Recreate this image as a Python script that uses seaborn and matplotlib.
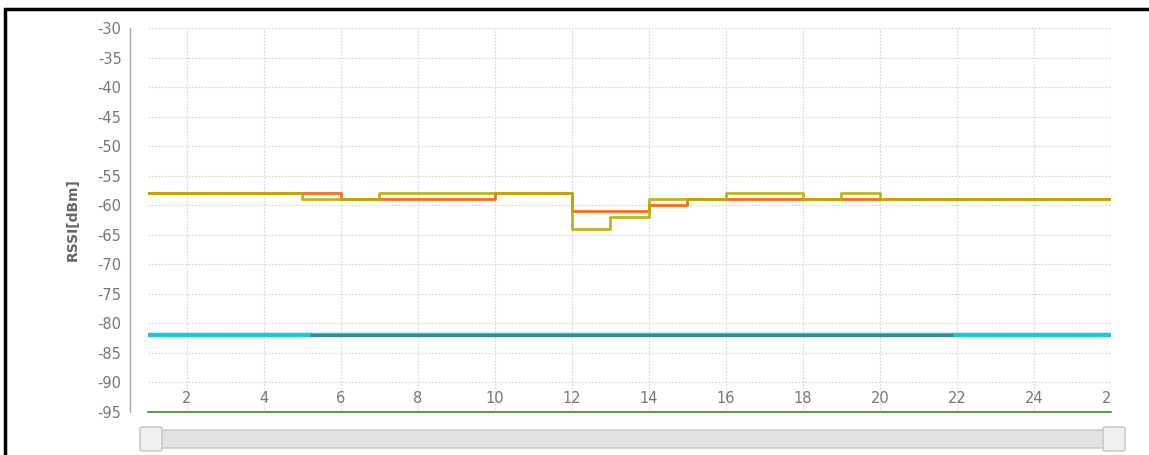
import numpy as np
import pandas as pd
import matplotlib
matplotlib.use("Agg")
import matplotlib.pyplot as plt
from matplotlib.patches import Rectangle, FancyBboxPatch
import seaborn as sns

# sample index
x_idx = list(range(1, 27))
# two RSSI traces (step lines)
rssi_orange = [-58, -58, -58, -58, -58, -59, -59, -59, -59, -58, -58, -61, -61,
               -60, -59, -59, -59, -59, -59, -59, -59, -59, -59, -59, -59, -59]
rssi_olive = [-58, -58, -58, -58, -59, -59, -58, -58, -58, -58, -58, -64, -62,
              -59, -59, -58, -58, -59, -58, -59, -59, -59, -59, -59, -59, -59]
# flat lines
cyan_x = [1, 26]
cyan_y = [-82, -82]
teal_x = [5.2, 21.9]
teal_y = [-82, -82]
floor_x = [1, 26]
floor_y = [-95, -95]

x_ticks = list(range(2, 27, 2))
x_ticklabels = [str(v) for v in x_ticks]
y_ticks = list(range(-95, -29, 5))

df = pd.DataFrame({
    "x": x_idx * 2,
    "rssi": rssi_orange + rssi_olive,
    "series": ["a"] * len(x_idx) + ["b"] * len(x_idx),
})

sns.set_style("white")
plt.rcParams['font.family'] = ['DejaVu Sans']
plt.rcParams['axes.unicode_minus'] = False

fig = plt.figure(figsize=(11.49, 4.55), dpi=100)
ax = fig.add_axes([148 / 1149, 1 - 412 / 455, (1111 - 148) / 1149, (412 - 28) / 455])

ax.plot(cyan_x, cyan_y, color="#1ec8cf", lw=3.2, solid_capstyle="butt")
ax.plot(teal_x, teal_y, color="#2e8f92", lw=2.2, solid_capstyle="butt")
ax.plot(floor_x, floor_y, color="#5a9e4a", lw=1.5, clip_on=False)

sns.lineplot(data=df, x="x", y="rssi", hue="series",
             palette={"a": "#ff6a1a", "b": "#b8ad00"},
             drawstyle="steps-post", lw=2, legend=False, ax=ax)
ax.lines[-1].set_alpha(0.9)

ax.set_xlim(1, 26)
ax.set_ylim(-95, -30)
ax.set_xticks(x_ticks)
ax.set_xticklabels(x_ticklabels)
ax.set_yticks(y_ticks)
ax.grid(True, color="#d4d4d4", linestyle=(0, (1.5, 1.5)), lw=0.8)
ax.set_axisbelow(True)

for s in ["top", "right", "bottom"]:
    ax.spines[s].set_visible(False)
ax.spines["left"].set_position(("outward", 13))
ax.spines["left"].set_color("#aaaaaa")
ax.spines["left"].set_linewidth(1)

ax.tick_params(axis="y", colors="#777777", labelsize=10.5, length=4, width=1, pad=2)
ax.tick_params(axis="y", color="#aaaaaa")
ax.tick_params(axis="x", colors="#777777", labelsize=10.5, direction="in",
               length=4, width=1, pad=-15)
ax.tick_params(axis="x", color="#aaaaaa")
for t in ax.get_xticklabels():
    t.set_clip_on(True)
    t.set_clip_box(ax.bbox)

ax.set_xlabel("")
ax.set_ylabel("RSSI[dBm]", color="#666666", fontsize=10, fontweight="bold", labelpad=13)

# outer frame (left and top edges visible)
fig.patches.append(Rectangle((5 / 1149, -0.05), 1.2, 1 - 9 / 455 + 0.05,
                             transform=fig.transFigure, fill=False,
                             edgecolor="black", lw=2.5))
# range slider
W, H = 1149, 455
fig.patches.append(FancyBboxPatch((142 / W, 1 - 448 / H), (1124 - 142) / W, 18 / H,
                                  boxstyle="round,pad=0,rounding_size=0.004",
                                  transform=fig.transFigure, facecolor="#e2e2e2",
                                  edgecolor="#c8c8c8", lw=1))
for kx in [140, 1103]:
    fig.patches.append(FancyBboxPatch((kx / W, 1 - 451 / H), 22 / W, 24 / H,
                                      boxstyle="round,pad=0,rounding_size=0.003",
                                      transform=fig.transFigure, facecolor="#f0f0f0",
                                      edgecolor="#c4c4c4", lw=1))

fig.savefig("out.png", dpi=100)
